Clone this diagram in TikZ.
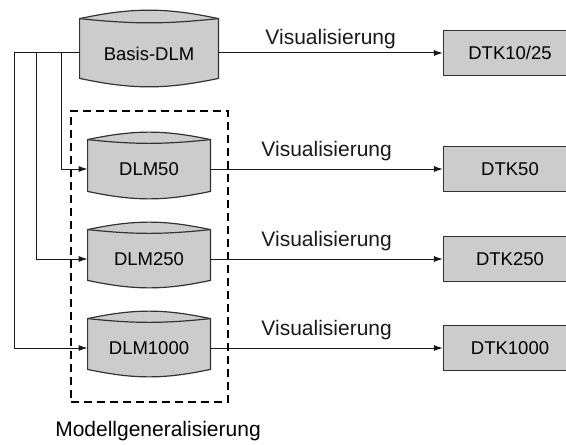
\documentclass[tikz,border=0pt]{standalone}
\usepackage{fontspec}
\setmainfont{Liberation Sans}
\usetikzlibrary{arrows.meta,positioning,backgrounds}
\tikzset{
    dbnode/.style={rectangle, minimum width=61pt, minimum height=29pt, inner sep=0pt, font=\fontsize{9.25}{11}\selectfont},
    dbshape/.style={draw=black!80, fill=black!20, line width=0.6pt},
    mapbox/.style={rectangle, minimum width=66.5pt, minimum height=22.5pt, draw=black!80, fill=black!20, line width=0.6pt, font=\fontsize{9.25}{11}\selectfont},
    group/.style={rectangle, draw=black, line width=1pt, dash pattern=on 4pt off 2.5pt, minimum width=78.5pt, minimum height=145.5pt},
    line/.style={-{Latex[length=4.5pt,width=3pt]}, black!90, line width=0.5pt},
    vlabel/.style={midway, above, inner sep=3.8pt, font=\fontsize{10.5}{12}\selectfont},
}
\begin{document}
\begin{tikzpicture}[x=0.5pt, y=-0.5pt]
        \useasboundingbox (0,0) rectangle (566,444);

        % Databases
        \node[dbnode, minimum width=69pt, minimum height=34pt, text height=8pt, text depth=0pt] (basis) at (149,53) {Basis-DLM};
        \node[dbnode] (dlm50) at (149,169) {DLM50};
        \node[dbnode] (dlm250) at (149,259) {DLM250};
        \node[dbnode] (dlm1000) at (149,348) {DLM1000};

        % Maps
        \node[mapbox] (dtk1025) at (510,53) {DTK10/25};
        \node[mapbox] (dtk50) at (510,169) {DTK50};
        \node[mapbox] (dtk250) at (510,259) {DTK250};
        \node[mapbox] (dtk1000) at (510,348) {DTK1000};

        % Generalisation group
        \node[group] (grp) at (149.5,256.5) {};
        \node[font=\fontsize{10.5}{12}\selectfont] (gentext) at (158,431) {Modellgeneralisierung};

        % Drum outlines behind the text
        \begin{scope}[on background layer]
            \foreach \n/\r in {basis/4.5pt, dlm50/3.5pt, dlm250/4pt, dlm1000/4pt}{
                \draw[dbshape] (\n.north west) to[bend left=12] (\n.north east)
                    -- ([yshift=\r]\n.south east) to[bend left=12] ([yshift=\r]\n.south west) -- cycle;
                \draw[dbshape, fill=none] (\n.north west) to[bend right=6] (\n.north east);
            }
        \end{scope}

        % Lines
        \draw[line] (basis) -- (dtk1025) node[vlabel, inner sep=1.8pt] (vis1) {Visualisierung};
        \draw[line] (dlm50) -- (dtk50) node[vlabel] (vis2) {Visualisierung};
        \draw[line] (dlm250) -- (dtk250) node[vlabel] (vis3) {Visualisierung};
        \draw[line] (dlm1000) -- (dtk1000) node[vlabel] (vis4) {Visualisierung};

        \coordinate (bus1) at (61,0);
        \coordinate (bus2) at (36,0);
        \coordinate (bus3) at (14,0);
        \draw[line] (basis.west) -| (bus1 |- dlm50.west) -- (dlm50.west);
        \draw[line] (basis.west) -| (bus2 |- dlm250.west) -- (dlm250.west);
        \draw[line] (basis.west) -| (bus3 |- dlm1000.west) -- (dlm1000.west);

    \end{tikzpicture}
\end{document}
